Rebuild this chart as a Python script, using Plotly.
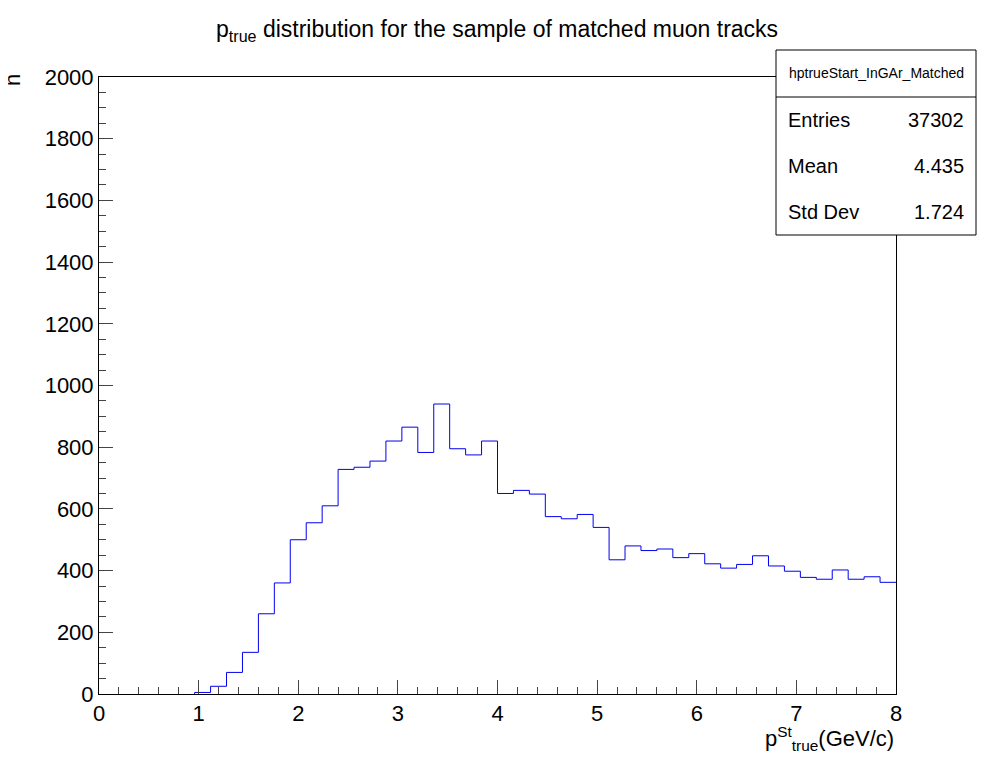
import plotly.graph_objects as go

bin_lo = 0.0
bin_w = 0.16
counts = [0,0,0,0,0,0,5,25,70,135,260,360,500,555,610,728,735,755,820,865,783,940,795,775,820,
          650,660,648,575,568,582,540,435,480,465,470,442,455,422,408,420,448,415,398,378,372,402,372,380,362]
stats = [("Entries", "37302"), ("Mean", "4.435"), ("Std Dev", "1.724")]

edges = [bin_lo + i * bin_w for i in range(len(counts) + 1)]
xs, ys = [], []
first = next(i for i, c in enumerate(counts) if c > 0)
for i in range(first, len(counts)):
    xs += [edges[i], edges[i + 1]]
    ys += [counts[i], counts[i]]
xs = [edges[first]] + xs
ys = [0] + ys

fig = go.Figure(go.Scatter(x=xs, y=ys, mode="lines", line=dict(color="#0000ee", width=1)))
font = "Liberation Sans, Arial"
fig.update_layout(
    width=996, height=772, plot_bgcolor="white", paper_bgcolor="white", showlegend=False,
    margin=dict(l=91, r=108, t=69, b=86),
    font=dict(family=font, size=22, color="black"),
    xaxis=dict(range=[0, 8], showgrid=False, zeroline=False, ticks="inside", ticklen=14,
               dtick=1, mirror=True, showline=True, linecolor="black", linewidth=1,
               minor=dict(ticks="inside", ticklen=7, dtick=0.2)),
    yaxis=dict(range=[0, 2000], showgrid=False, zeroline=False, ticks="inside", ticklen=14,
               dtick=200, mirror=True, showline=True, linecolor="black", linewidth=1,
               minor=dict(ticks="inside", ticklen=7, dtick=50)),
)

def py(p):
    return (694 - p) / 617

def px(p):
    return (p - 99) / 797

fig.add_annotation(text="p<sub>true</sub> distribution for the sample of matched muon tracks",
                   xref="paper", yref="paper", x=px(497), y=py(30), xanchor="center", yanchor="middle",
                   showarrow=False, font=dict(size=23))
fig.add_annotation(text="p<sup>St</sup><sub>true</sub>(GeV/c)", xref="paper", yref="paper",
                   x=1.0, y=py(738), xanchor="right", yanchor="middle", showarrow=False, font=dict(size=22))
fig.add_annotation(text="n", xref="paper", yref="paper", x=px(12), y=py(80), textangle=-90,
                   xanchor="center", yanchor="middle", showarrow=False, font=dict(size=22))
x0, x1 = px(776), px(976)
fig.add_shape(type="rect", xref="paper", yref="paper", x0=x0, x1=x1, y0=py(235), y1=py(50),
              line=dict(color="black", width=1), fillcolor="white", layer="above")
fig.add_shape(type="line", xref="paper", yref="paper", x0=x0, x1=x1, y0=py(97), y1=py(97),
              line=dict(color="black", width=1))
fig.add_annotation(text="hptrueStart_InGAr_Matched", xref="paper", yref="paper", x=(x0+x1)/2,
                   y=py(73), xanchor="center", yanchor="middle", showarrow=False, font=dict(size=14))
for k, (lab, val) in enumerate(stats):
    p = 120 + 46 * k
    fig.add_annotation(text=lab, xref="paper", yref="paper", x=px(786), y=py(p),
                       xanchor="left", yanchor="middle", showarrow=False, font=dict(size=20))
    fig.add_annotation(text=val, xref="paper", yref="paper", x=px(966), y=py(p),
                       xanchor="right", yanchor="middle", showarrow=False, font=dict(size=20))
fig.write_html("out.html")
